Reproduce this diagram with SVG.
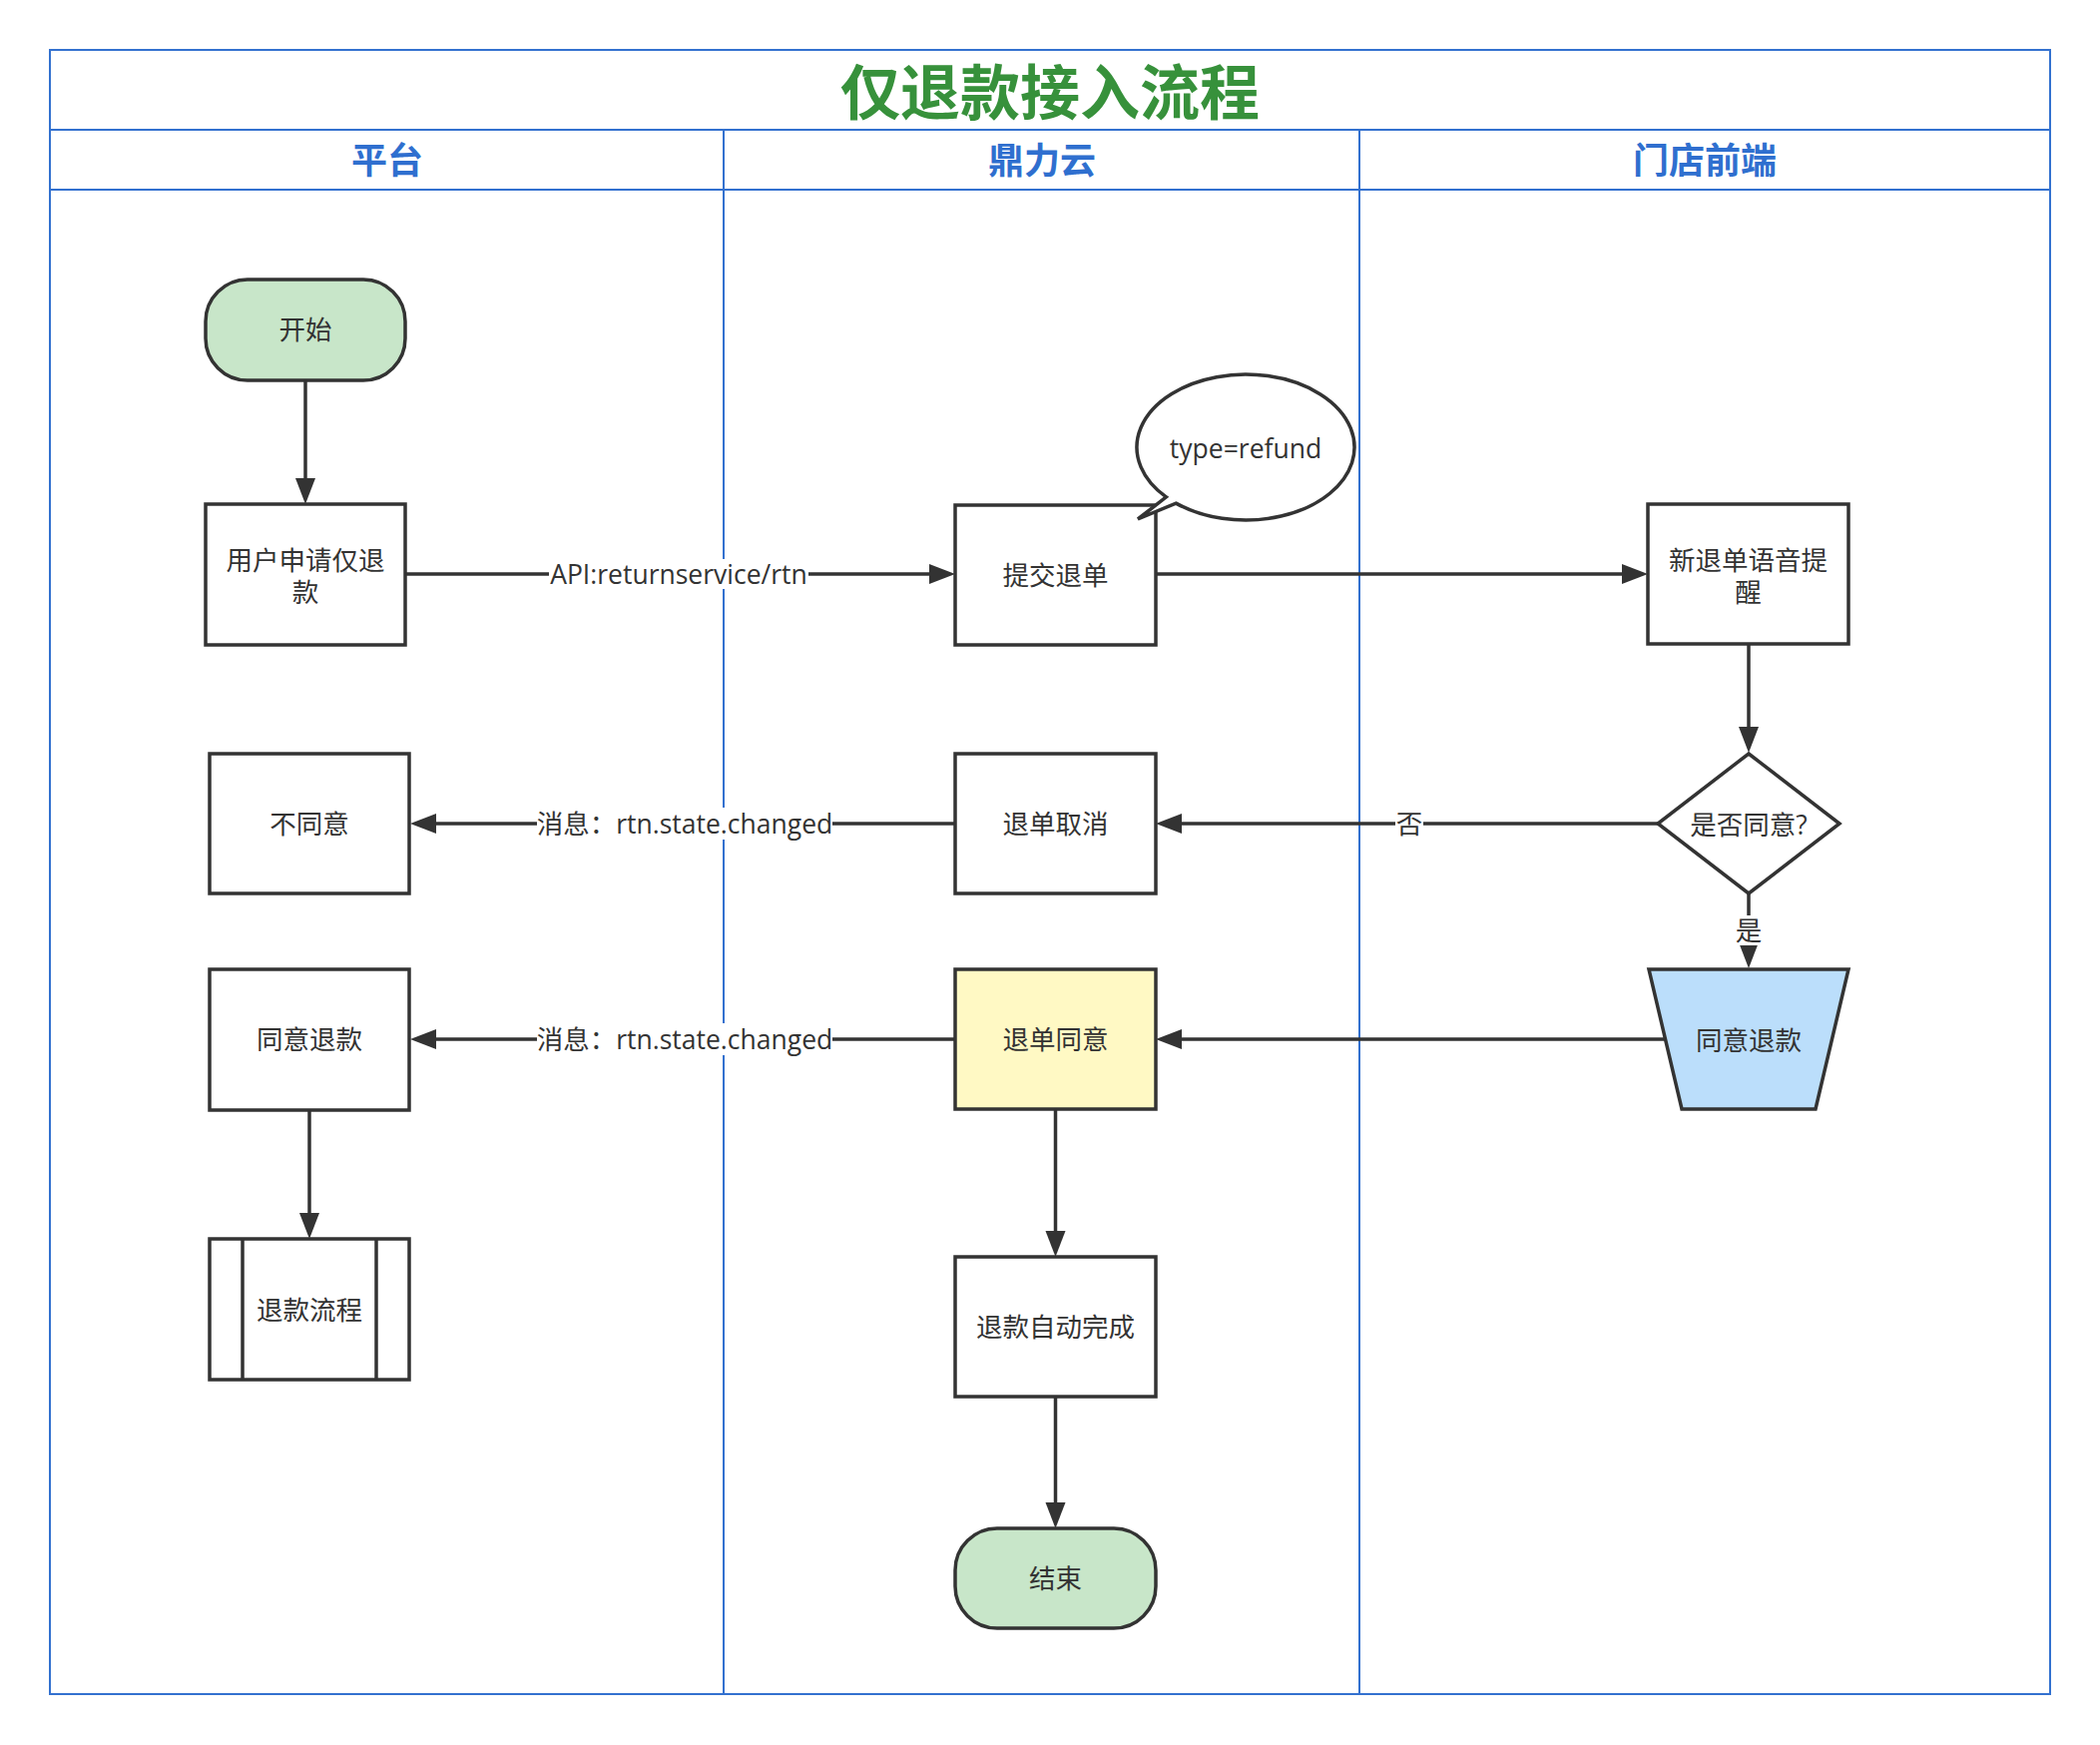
<svg xmlns="http://www.w3.org/2000/svg" width="2104" height="1748" viewBox="0 0 2104 1748">
<style>
.lane{fill:none;stroke:#3371cf;stroke-width:2}
.node{stroke:#333;stroke-width:3.5}
.t{font-family:"Open Sans","Noto Sans CJK SC",sans-serif;font-size:26.5px;fill:#333;text-anchor:middle;dominant-baseline:central}
.hdr{font-family:"Noto Sans CJK SC",sans-serif;font-size:36px;font-weight:bold;fill:#2f6fcf;text-anchor:middle;dominant-baseline:central}
.title{font-family:"Noto Sans CJK SC",sans-serif;font-size:60px;font-weight:bold;fill:#37913b;text-anchor:middle;dominant-baseline:central}
.edge{fill:none;stroke:#333;stroke-width:3.5;marker-end:url(#arr)}
.lblbg{fill:#fff}
</style>
<defs>
<marker id="arr" markerUnits="userSpaceOnUse" markerWidth="28" markerHeight="22" refX="6" refY="11" orient="auto">
<path d="M0,1 L26,11 L0,21 Z" fill="#333"/>
</marker>
</defs>
<rect width="2104" height="1748" fill="#fff"/>
<g id="pool">
<rect class="lane" x="50" y="50" width="2004" height="1647" stroke-width="2.5"/>
<line class="lane" x1="50" y1="130" x2="2054" y2="130"/>
<line class="lane" x1="50" y1="190" x2="2054" y2="190"/>
<line class="lane" x1="725" y1="130" x2="725" y2="1697"/>
<line class="lane" x1="1362" y1="130" x2="1362" y2="1697"/>
<text class="title" x="1052" y="88">仅退款接入流程</text>
<text class="hdr" x="388" y="158">平台</text>
<text class="hdr" x="1044" y="158">鼎力云</text>
<text class="hdr" x="1708" y="158">门店前端</text>
</g>
<g id="connectors">
<path class="edge" d="M306,381 V485"/>
<path class="edge" d="M407,575 H937"/>
<path class="edge" d="M1158,575 H1631"/>
<path class="edge" d="M1752,645 V734"/>
<path class="edge" d="M1661,825 H1178"/>
<path class="edge" d="M957,825 H431"/>
<path class="edge" d="M1752,895 V950"/>
<path class="edge" d="M1668,1041 H1178"/>
<path class="edge" d="M957,1041 H431"/>
<path class="edge" d="M310,1112 V1221"/>
<path class="edge" d="M1057.5,1111 V1239"/>
<path class="edge" d="M1057.5,1399 V1511"/>
<rect class="lblbg" x="550" y="560" width="260" height="30"/>
<text class="t" x="680" y="575">API:returnservice/rtn</text>
<rect class="lblbg" x="538" y="809" width="296" height="32"/>
<text class="t" x="686" y="825">消息：rtn.state.changed</text>
<rect class="lblbg" x="538" y="1025" width="296" height="32"/>
<text class="t" x="686" y="1041">消息：rtn.state.changed</text>
<rect class="lblbg" x="1398" y="810" width="28" height="30"/>
<text class="t" x="1412" y="825">否</text>
<rect class="lblbg" x="1738" y="917" width="28" height="30"/>
<text class="t" x="1752" y="932">是</text>
</g>
<g id="start">
<rect class="node" x="206" y="280" width="200" height="101" rx="42" ry="42" fill="#c8e6c9"/>
<text class="t" x="306" y="330">开始</text>
</g>
<g id="apply">
<rect class="node" x="206" y="505" width="200" height="141" fill="#fff"/>
<text class="t" x="306" y="561">用户申请仅退</text>
<text class="t" x="306" y="593">款</text>
</g>
<g id="submit">
<rect class="node" x="957" y="506" width="201" height="140" fill="#fff"/>
<text class="t" x="1057.5" y="576">提交退单</text>
</g>
<g id="callout">
<path class="node" d="M1178.2,504.1 A109,73 0 1 0 1168.4,497.9 L1140,520 Z" fill="#fff"/>
<text class="t" x="1248" y="449">type=refund</text>
</g>
<g id="notify">
<rect class="node" x="1651" y="505" width="201" height="140" fill="#fff"/>
<text class="t" x="1751.5" y="561">新退单语音提</text>
<text class="t" x="1751.5" y="593">醒</text>
</g>
<g id="decision">
<path class="node" d="M1752,755 L1843,825 L1752,895 L1661,825 Z" fill="#fff"/>
<text class="t" x="1752" y="826">是否同意?</text>
</g>
<g id="cancel">
<rect class="node" x="957" y="755" width="201" height="140" fill="#fff"/>
<text class="t" x="1057.5" y="825">退单取消</text>
</g>
<g id="disagree">
<rect class="node" x="210" y="755" width="200" height="140" fill="#fff"/>
<text class="t" x="310" y="825">不同意</text>
</g>
<g id="agree-store">
<path class="node" d="M1652,971 L1852,971 L1819,1111 L1685,1111 Z" fill="#bbdefb"/>
<text class="t" x="1752" y="1042">同意退款</text>
</g>
<g id="agree-order">
<rect class="node" x="957" y="971" width="201" height="140" fill="#fff9c4"/>
<text class="t" x="1057.5" y="1041">退单同意</text>
</g>
<g id="agree-platform">
<rect class="node" x="210" y="971" width="200" height="141" fill="#fff"/>
<text class="t" x="310" y="1041">同意退款</text>
</g>
<g id="refund-process">
<rect class="node" x="210" y="1241" width="200" height="141" fill="#fff"/>
<line class="node" x1="243" y1="1241" x2="243" y2="1382"/>
<line class="node" x1="377" y1="1241" x2="377" y2="1382"/>
<text class="t" x="310" y="1312">退款流程</text>
</g>
<g id="auto-complete">
<rect class="node" x="957" y="1259" width="201" height="140" fill="#fff"/>
<text class="t" x="1057.5" y="1329">退款自动完成</text>
</g>
<g id="end">
<rect class="node" x="957" y="1531" width="201" height="100" rx="42" ry="42" fill="#c8e6c9"/>
<text class="t" x="1057.5" y="1581">结束</text>
</g>
</svg>
